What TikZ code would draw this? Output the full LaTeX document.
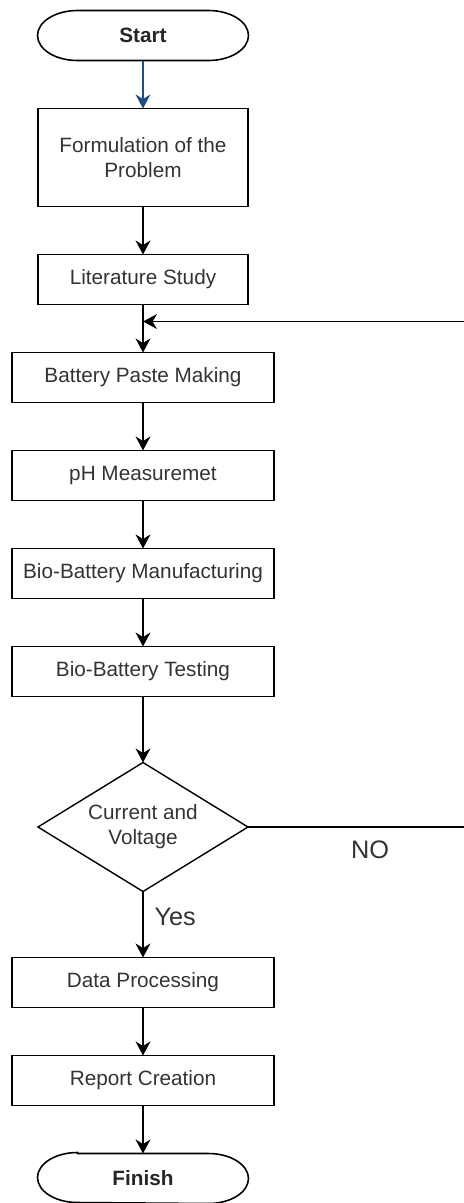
\documentclass[tikz,border=0pt]{standalone}
\usepackage{fontspec}
\setmainfont{Liberation Sans}
\usetikzlibrary{shapes.geometric,arrows.meta,positioning,calc}
\definecolor{txtgray}{HTML}{333333}
\definecolor{arrowblue}{HTML}{1F4E85}
\tikzset{
  block/.style = {draw, rectangle, line width=0.8pt, outer sep=0pt, minimum width=4.2cm, minimum height=1cm, align=center, text=txtgray, inner sep=2pt},
  wideblock/.style = {block, minimum width=5.24cm},
  terminal/.style = {rectangle, outer sep=0pt, minimum width=4.22cm, minimum height=1cm, font=\fontsize{11.8}{14.2}\selectfont\bfseries, text=black!85},
  decision/.style = {draw, diamond, line width=0.8pt, outer sep=0pt, minimum width=4.2cm, minimum height=2.58cm, aspect=1.63, inner sep=0pt, align=center, text=txtgray},
  flow/.style = {draw, line width=0.8pt},
  bigtext/.style = {font=\fontsize{14.4}{16}\selectfont, text=txtgray}
}
% outline of the start / finish nodes
\newcommand{\termshape}[1]{%
  \draw[line width=0.9pt] ($(#1.north west)+(0.8,0)$) -- ($(#1.north east)+(-0.8,0)$)
    arc[start angle=90, end angle=-90, x radius=0.8cm, y radius=0.5cm]
    -- ($(#1.south west)+(0.8,0)$)
    arc[start angle=270, end angle=90, x radius=0.8cm, y radius=0.5cm] -- cycle;}

\begin{document}
\begin{tikzpicture}[node distance=0.96cm, >={Stealth[length=8pt, width=8.5pt]}, font=\fontsize{11.8}{14.2}\selectfont]
\useasboundingbox (0,0) rectangle (9.28,-24.06);

\node [terminal] (start) at (2.86,-0.71) {Start};
\node [block, below=of start, minimum height=1.96cm] (formulation) {Formulation of the\\Problem};
\node [block, below=of formulation] (literature) {Literature Study};
\node [wideblock, below=of literature] (paste) {Battery Paste Making};
\node [wideblock, below=of paste] (ph) {pH Measuremet};
\node [wideblock, below=of ph] (manufacturing) {Bio-Battery Manufacturing};
\node [wideblock, below=of manufacturing] (testing) {Bio-Battery Testing};
\node [decision, below=1.32cm of testing] (check) {Current and\\Voltage};
\node [wideblock, below=1.32cm of check] (processing) {Data Processing};
\node [wideblock, below=of processing] (report) {Report Creation};
\node [terminal, below=of report, minimum height=0.98cm] (finish) {Finish};

\termshape{start}
\termshape{finish}

\coordinate [below=0.34cm of literature] (merge);
\coordinate (loopin) at (9.28,0 |- merge);
\coordinate (noend) at (9.28,0 |- check.east);

\draw [->, flow, arrowblue] (start) -- (formulation);
\draw [->, flow] (formulation) -- (literature);
\draw [flow] (literature) -- (merge);
\draw [->, flow] (merge) -- (paste);
\draw [->, flow] (loopin) -- (merge);
\draw [->, flow] (paste) -- (ph);
\draw [->, flow] (ph) -- (manufacturing);
\draw [->, flow] (manufacturing) -- (testing);
\draw [->, flow] (testing) -- (check);
\draw [flow] (check) -- node [pos=0.565, below=0.15cm, bigtext] {NO} (noend);
\draw [->, flow] (check) -- node [pos=0.39, right=0.1cm, bigtext] {Yes} (processing);
\draw [->, flow] (processing) -- (report);
\draw [->, flow] (report) -- (finish);

\end{tikzpicture}
\end{document}
